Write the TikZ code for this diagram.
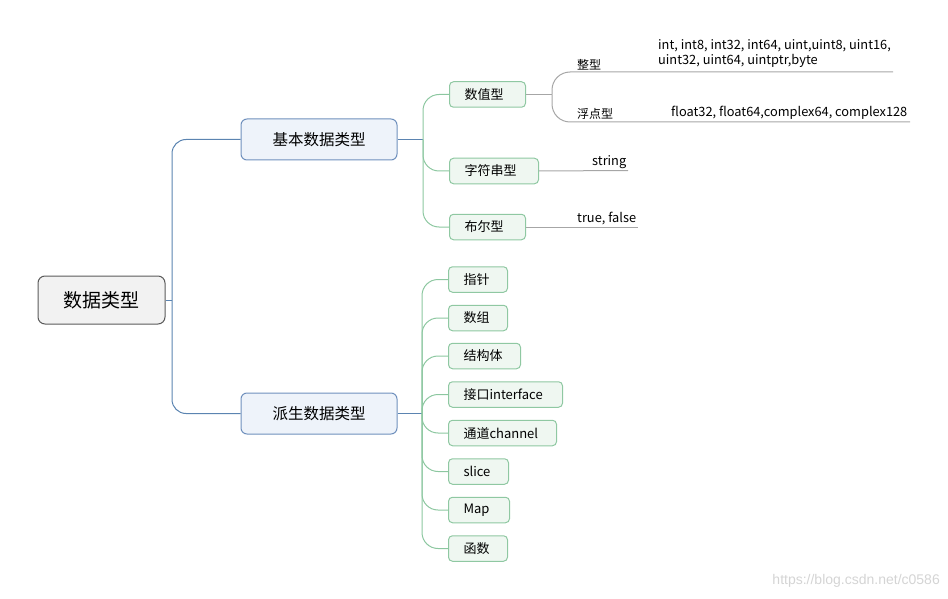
\documentclass[tikz,border=0pt]{standalone}
\usepackage{fontspec}
\setmainfont{Noto Sans CJK SC}
\newfontfamily\wmfont{Liberation Sans}
\definecolor{cRootDraw}{HTML}{5A5A5A}
\definecolor{cRootFill}{HTML}{F2F2F2}
\definecolor{cBlueDraw}{HTML}{6F90BD}
\definecolor{cBlueFill}{HTML}{EEF3FA}
\definecolor{cBlueLine}{HTML}{5B84B1}
\definecolor{cGreenDraw}{HTML}{8FC8A2}
\definecolor{cGreenFill}{HTML}{EFF7F1}
\definecolor{cGreenLine}{HTML}{8CC7A0}
\definecolor{cGrayLine}{HTML}{A6A6A6}
\definecolor{cWm}{HTML}{D4D4D4}
\tikzset{
  rootbox/.style={draw=cRootDraw, fill=cRootFill, line width=1pt, rounded corners=7pt,
    minimum width=127pt, minimum height=48pt, inner sep=0pt, font=\fontsize{19}{22}\selectfont},
  mainbox/.style={draw=cBlueDraw, fill=cBlueFill, line width=1pt, rounded corners=6pt,
    minimum width=156pt, minimum height=41pt, inner sep=0pt, font=\fontsize{15.5}{18}\selectfont},
  subbox/.style={draw=cGreenDraw, fill=cGreenFill, line width=1pt, rounded corners=4pt,
    minimum height=25.5pt, inner xsep=15pt, inner ysep=0pt, anchor=west, align=left,
    font=\fontsize{13}{15}\selectfont},
  leaftext/.style={inner sep=1pt, anchor=south west, font=\fontsize{12.8}{15}\selectfont},
  cjkleaf/.style={inner sep=1pt, anchor=south west, font=\fontsize{12}{15}\selectfont},
  bluelink/.style={draw=cBlueLine, line width=1pt, rounded corners=14pt},
  greenlink/.style={draw=cGreenLine, line width=1pt, rounded corners=16pt},
  graylink/.style={draw=cGrayLine, line width=1pt, rounded corners=18pt},
}
\begin{document}
\begin{tikzpicture}[x=1pt,y=-1pt]
\useasboundingbox (0,0) rectangle (948,599);
% nodes
\node[rootbox] (root) at (101.5,300) {数据类型};
\node[mainbox] (jb) at (319,139.5) {基本数据类型};
\node[mainbox] (ps) at (319,413.5) {派生数据类型};

\node[subbox, text width=46pt] (sz) at (449,94.5) {数值型};
\node[subbox, text width=59pt] (zf) at (449,171) {字符串型};
\node[subbox, text width=46pt] (be) at (449,227) {布尔型};

\node[subbox, text width=29pt] (zz) at (448,279.5) {指针};
\node[subbox, text width=29pt] (sg) at (448,318) {数组};
\node[subbox, text width=42pt] (jg) at (448,356) {结构体};
\node[subbox, text width=84pt] (jk) at (448,394.5) {接口interface};
\node[subbox, text width=78pt] (td) at (448,433) {通道channel};
\node[subbox, text width=30pt] (sl) at (448,471.5) {slice};
\node[subbox, text width=31pt] (mp) at (448,510) {Map};
\node[subbox, text width=29pt] (hs) at (448,548.5) {函数};

% coordinates
\coordinate (rt) at (172,300);
\coordinate (gt1) at (423,139.5);
\coordinate (gt2) at (422,413.5);
\coordinate (gg) at (552,94.5);
\coordinate (zxend) at (893,72);
\coordinate (fdend) at (910,122);
\coordinate (zfend) at (628,170.5);
\coordinate (beend) at (638,227);

% connectors
\draw[bluelink] (root.east) -- (rt);
\draw[bluelink] (rt) |- (jb.west);
\draw[bluelink] (rt) |- (ps.west);
\draw[bluelink] (jb.east) -- (gt1);
\draw[bluelink] (ps.east) -- (gt2);

\draw[greenlink] (gt1) |- (sz.west);
\draw[greenlink] (gt1) |- (zf.west);
\draw[greenlink] (gt1) |- (be.west);

\foreach \n in {zz,sg,jg,jk,td,sl,mp,hs}{
  \draw[greenlink] (gt2) |- (\n.west);
}

\draw[graylink] (sz.east) -- (gg);
\draw[graylink] (gg) |- (zxend);
\draw[graylink] (gg) |- (fdend);
\draw[graylink] (zf.east) -- (zfend);
\draw[graylink] (be.east) -- (beend);

% leaf texts
\node[cjkleaf] (zx) at (576,71) {整型};
\node[leaftext, anchor=north west, align=left] (zxv) at (657,38.5) {int, int8, int32, int64, uint,uint8, uint16,\\uint32, uint64, uintptr,byte};
\node[cjkleaf] (fd) at (576,121) {浮点型};
\node[leaftext] (fdv) at (670,121) {float32, float64,complex64, complex128};
\node[leaftext] (str) at (591,169.5) {string};
\node[leaftext] (tf) at (576,226) {true, false};

% watermark
\node[anchor=east, inner sep=0pt, text=cWm, font=\wmfont\fontsize{14}{16}\selectfont] (wm) at (940,581) {https://blog.csdn.net/c0586};
\end{tikzpicture}
\end{document}
